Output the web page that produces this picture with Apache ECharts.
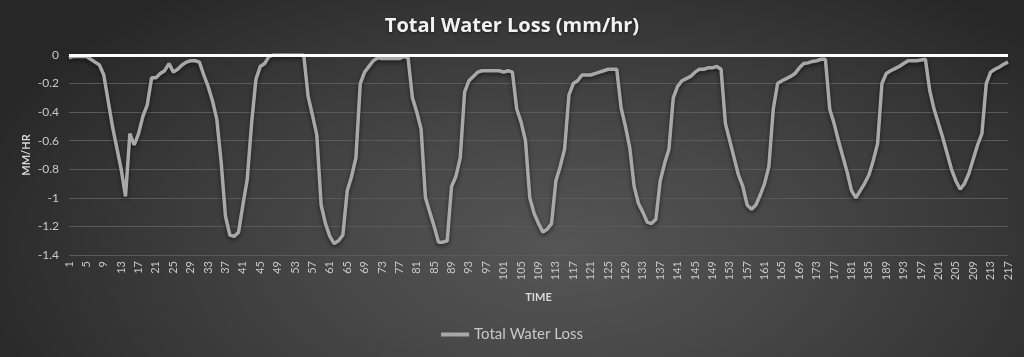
<!DOCTYPE html>
<html>
<head>
<meta charset="utf-8">
<script src="https://cdn.jsdelivr.net/npm/echarts@6/dist/echarts.min.js"></script>
<style>
html,body{margin:0;padding:0;background:#2a2a2a;}
#chart{width:1024px;height:357px;
  background: radial-gradient(ellipse 620px 330px at 560px 250px, #555555 0%, #484848 35%, #373737 70%, #272727 100%);}
</style>
</head>
<body>
<div id="chart"></div>
<script>
const titleText = 'Total Water Loss (mm/hr)';
const seriesName = 'Total Water Loss';
const xAxisName = 'TIME';
const yAxisName = 'MM/HR';
const yTicks = { min: -1.4, max: 0, interval: 0.2 };

const totalWaterLoss = [
  -0.02,-0.01,-0.01,-0.01,-0.01,-0.03,-0.05,-0.07,-0.14,-0.32,
  -0.5,-0.65,-0.8,-0.99,-0.55,-0.63,-0.55,-0.43,-0.35,-0.16,
  -0.16,-0.13,-0.11,-0.06,-0.12,-0.1,-0.07,-0.05,-0.04,-0.04,
  -0.05,-0.14,-0.22,-0.32,-0.45,-0.75,-1.13,-1.26,-1.27,-1.24,
  -1.05,-0.87,-0.48,-0.17,-0.08,-0.06,-0.01,0,0,0,
  0,0,0,0,0,-0.29,-0.42,-0.56,-1.05,-1.18,
  -1.27,-1.32,-1.3,-1.26,-0.95,-0.85,-0.72,-0.2,-0.12,-0.08,
  -0.04,-0.02,-0.025,-0.025,-0.025,-0.025,-0.025,-0.01,-0.02,-0.3,
  -0.4,-0.52,-1.0,-1.1,-1.2,-1.31,-1.31,-1.3,-0.92,-0.85,
  -0.72,-0.26,-0.18,-0.15,-0.12,-0.11,-0.11,-0.11,-0.11,-0.11,
  -0.12,-0.11,-0.12,-0.38,-0.47,-0.6,-1.0,-1.11,-1.18,-1.24,
  -1.22,-1.18,-0.88,-0.78,-0.66,-0.28,-0.2,-0.18,-0.14,-0.14,
  -0.14,-0.13,-0.12,-0.11,-0.1,-0.1,-0.1,-0.37,-0.5,-0.65,
  -0.92,-1.04,-1.1,-1.17,-1.18,-1.15,-0.88,-0.76,-0.66,-0.3,
  -0.22,-0.18,-0.165,-0.15,-0.12,-0.1,-0.1,-0.09,-0.09,-0.08,
  -0.1,-0.48,-0.6,-0.72,-0.84,-0.92,-1.05,-1.08,-1.05,-0.98,
  -0.9,-0.78,-0.38,-0.2,-0.18,-0.165,-0.15,-0.13,-0.09,-0.06,
  -0.055,-0.045,-0.04,-0.03,-0.03,-0.38,-0.48,-0.6,-0.71,-0.82,
  -0.95,-1.0,-0.95,-0.9,-0.84,-0.74,-0.62,-0.2,-0.13,-0.11,
  -0.095,-0.08,-0.06,-0.04,-0.04,-0.04,-0.035,-0.03,-0.25,-0.38,
  -0.48,-0.58,-0.69,-0.8,-0.88,-0.94,-0.9,-0.83,-0.73,-0.63,
  -0.55,-0.2,-0.12,-0.1,-0.085,-0.065,-0.05
];

const timeCategories = totalWaterLoss.map((_, i) => String(i + 1));

const FONT = 'Lato, "Open Sans", sans-serif';
const chart = echarts.init(document.getElementById('chart'), null, { renderer: 'canvas' });
chart.setOption({
  backgroundColor: 'transparent',
  textStyle: { fontFamily: FONT },
  title: {
    text: titleText, left: 'center', top: 11,
    textStyle: { color: '#f2f2f2', fontSize: 20, fontWeight: 'bold', fontFamily: '"Open Sans", sans-serif',
      textShadowColor: 'rgba(0,0,0,0.5)', textShadowBlur: 3, textShadowOffsetY: 1 }
  },
  legend: {
    data: [{ name: seriesName, icon: 'rect' }], bottom: 10, left: 'center',
    itemWidth: 28, itemHeight: 4, itemGap: 4,
    itemStyle: { color: '#a8a8a8' },
    textStyle: { color: '#c8c8c8', fontSize: 15, fontFamily: FONT }
  },
  grid: { left: 69, right: 16, top: 55, bottom: 102 },
  xAxis: {
    type: 'category', data: timeCategories, boundaryGap: false,
    name: xAxisName, nameLocation: 'middle', nameGap: 37,
    nameTextStyle: { color: '#d9d9d9', fontSize: 11, fontWeight: 'bold', fontFamily: FONT },
    axisLine: { show: false },
    axisTick: { show: false },
    axisLabel: { interval: 3, rotate: 90, color: '#c8c8c8', fontSize: 11, margin: 6, fontFamily: FONT },
    splitLine: { show: false }
  },
  yAxis: {
    type: 'value', min: yTicks.min, max: yTicks.max, interval: yTicks.interval,
    name: yAxisName, nameLocation: 'middle', nameGap: 37, nameRotate: 90,
    nameMoveOverlap: false,
    nameTextStyle: { color: '#d9d9d9', fontSize: 11, fontWeight: 'bold', fontFamily: FONT },
    axisLine: { show: false }, axisTick: { show: false },
    axisLabel: { color: '#c8c8c8', fontSize: 12, margin: 10, fontFamily: FONT },
    splitLine: { lineStyle: { color: '#5a5a5a', width: 1 } }
  },
  series: [{
    name: seriesName, type: 'line', data: totalWaterLoss,
    symbol: 'none', smooth: false,
    lineStyle: { color: '#a8a8a8', width: 3.5, shadowColor: 'rgba(0,0,0,0.55)', shadowBlur: 4, shadowOffsetY: 2 },
    itemStyle: { color: '#a8a8a8' },
    markLine: {
      silent: true, symbol: 'none', animation: false,
      label: { show: false },
      lineStyle: { color: '#ffffff', width: 3, type: 'solid' },
      data: [{ yAxis: 0 }]
    },
    animation: false
  }]
});
</script>
</body>
</html>
